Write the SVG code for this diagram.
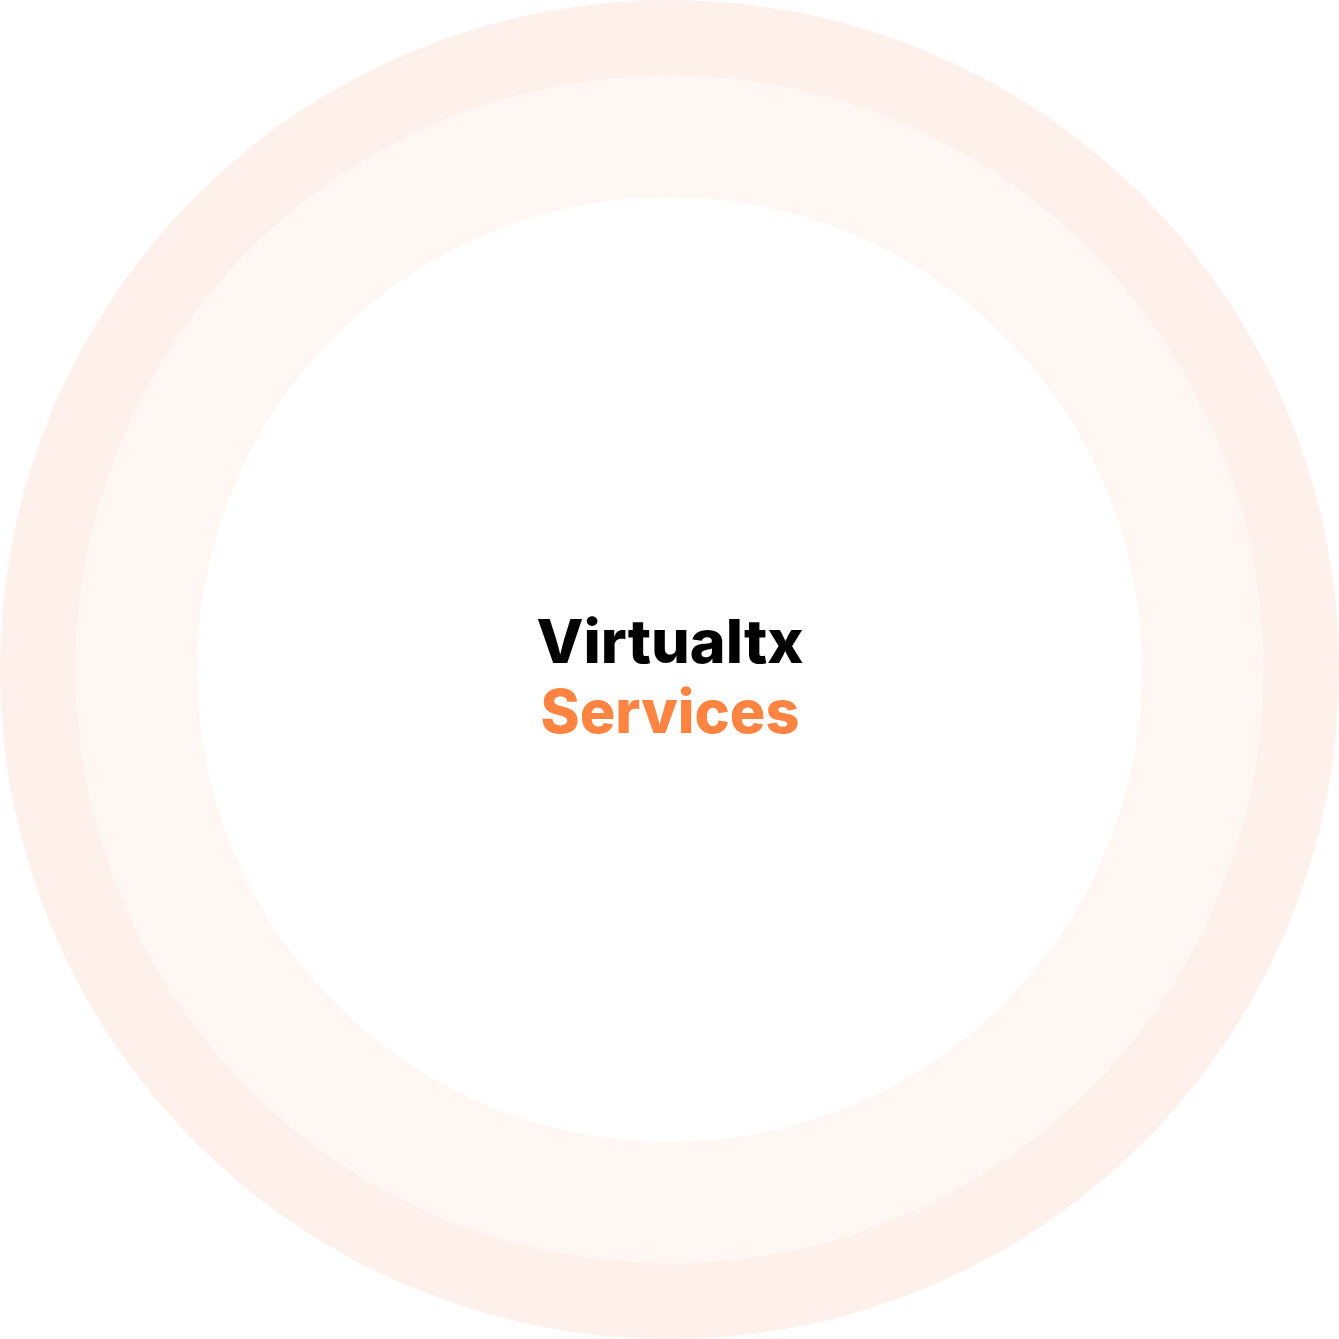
<svg xmlns="http://www.w3.org/2000/svg" width="1339" height="1339" viewBox="0 0 1339 1339">
<style>
.t{font-family:Inter,"Open Sans","Liberation Sans",sans-serif;font-weight:800;font-size:60px;text-anchor:middle}
</style>
<rect width="1339" height="1339" fill="#ffffff"/>
<g id="rings">
<circle cx="669.5" cy="669.5" r="669.5" fill="#FEF0EA"/>
<circle cx="669.5" cy="669.5" r="594" fill="#FEF7F3"/>
<circle cx="669.5" cy="669.5" r="472.5" fill="#FFFFFF"/>
</g>
<g id="title">
<text class="t" x="670" y="663" fill="#000000" textLength="267" lengthAdjust="spacingAndGlyphs">Virtualtx</text>
<text class="t" x="670" y="733" fill="#FF8441" textLength="259" lengthAdjust="spacingAndGlyphs">Services</text>
</g>
</svg>
